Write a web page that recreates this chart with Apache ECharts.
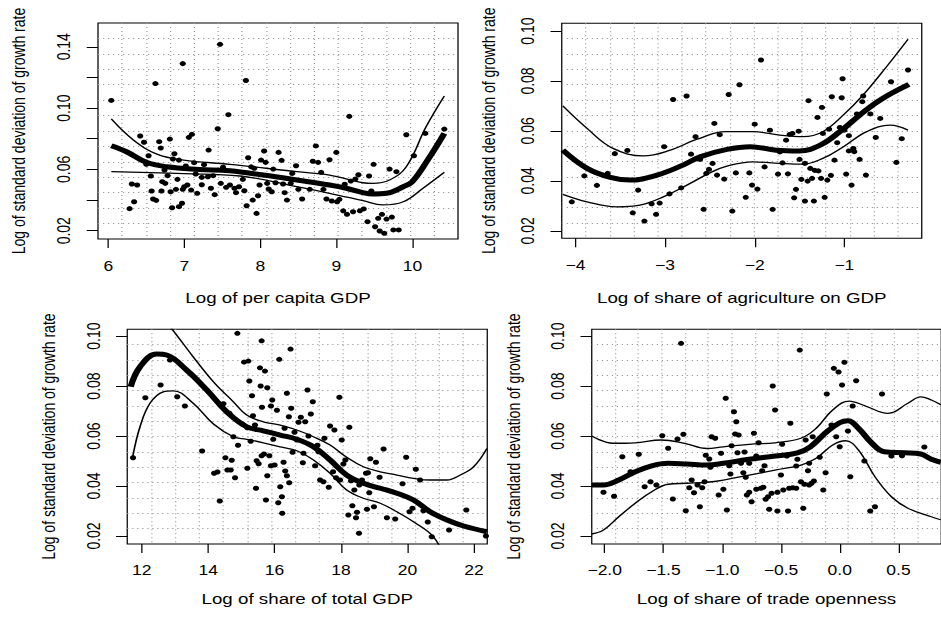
<!DOCTYPE html>
<html>
<head>
<meta charset="utf-8">
<title>Growth volatility</title>
<script src="https://cdn.jsdelivr.net/npm/echarts@6/dist/echarts.min.js"></script>
<style>
  html, body { margin: 0; padding: 0; background: #fff; overflow: hidden; }
  /* the source figure is stretched sideways, so this one is too */
  #main { width: 753px; height: 617px; transform: scaleX(1.25); transform-origin: 0 0; }
</style>
</head>
<body>
<div id="main"></div>
<script>
// tick values
var volTicksTop = [0.02, 0.04, 0.06, 0.08, 0.10, 0.12, 0.14];
var volLabelsTop = [0.02, 0.06, 0.10, 0.14];
var volTicks = [0.02, 0.04, 0.06, 0.08, 0.10];
var gdpTicks = [6, 7, 8, 9, 10];
var agriTicks = [-4, -3, -2, -1];
var totalTicks = [12, 14, 16, 18, 20, 22];
var tradeTicks = [-2.0, -1.5, -1.0, -0.5, 0.0, 0.5];

// per capita GDP
var gdpX = [6.04, 7.47, 6.98, 6.62, 7.58, 7.44, 7.10, 7.06, 6.42, 6.47,
  6.67, 6.81, 6.69, 7.32, 6.87, 6.53, 6.85, 6.93, 6.50, 7.13,
  7.26, 7.02, 7.51, 6.56, 6.74, 6.78, 7.15, 7.23, 7.31, 7.38,
  6.31, 6.38, 6.71, 6.75, 6.91, 7.00, 7.04, 7.23, 7.48, 7.60,
  6.57, 6.70, 6.82, 6.89, 6.98, 7.09, 7.17, 7.35, 7.40, 7.55,
  7.66, 7.68, 6.34, 6.59, 6.63, 6.28, 6.84, 6.93, 6.97, 7.81,
  9.17, 9.92, 10.17, 10.42, 8.73, 7.84, 8.05, 8.24, 8.01, 8.07,
  8.28, 8.47, 8.69, 8.76, 8.91, 9.00, 9.49, 9.70, 9.79, 10.02,
  7.88, 7.92, 8.17, 8.42, 8.80, 7.77, 7.99, 8.09, 8.20, 8.30,
  8.40, 8.11, 8.15, 8.32, 8.50, 8.65, 8.83, 9.11, 9.19, 9.25,
  9.29, 9.43, 9.46, 7.72, 7.79, 8.35, 8.55, 7.90, 7.97, 7.82,
  7.95, 8.87, 8.94, 9.01, 9.04, 9.09, 9.14, 9.22, 9.31, 9.36,
  9.41, 9.51, 9.55, 9.60, 9.57, 9.63, 9.66, 9.73, 9.75, 9.82];
var gdpY = [0.105, 0.1416, 0.129, 0.116, 0.0957, 0.0865, 0.0829, 0.0809, 0.0818, 0.0777,
  0.0781, 0.0798, 0.0739, 0.0726, 0.0702, 0.0689, 0.0668, 0.0661, 0.0633, 0.0644,
  0.0631, 0.0622, 0.0614, 0.0557, 0.0596, 0.0559, 0.0570, 0.0548, 0.0552, 0.0559,
  0.0505, 0.0498, 0.0520, 0.0509, 0.0535, 0.0487, 0.0498, 0.0500, 0.0509, 0.0498,
  0.0459, 0.0459, 0.0454, 0.0470, 0.0470, 0.0465, 0.0444, 0.0477, 0.0435, 0.0483,
  0.0477, 0.0448, 0.0389, 0.0407, 0.0398, 0.0344, 0.0350, 0.0357, 0.0379, 0.118,
  0.0946, 0.0826, 0.0835, 0.0863, 0.0753, 0.0676, 0.0720, 0.0711, 0.0661, 0.0646,
  0.0659, 0.0624, 0.0653, 0.0646, 0.0663, 0.0711, 0.0633, 0.0602, 0.0585, 0.0689,
  0.0617, 0.0607, 0.0602, 0.0574, 0.0581, 0.0535, 0.0498, 0.0509, 0.0513, 0.0505,
  0.0509, 0.0472, 0.0454, 0.0448, 0.0470, 0.0470, 0.0470, 0.0503, 0.0524, 0.0537,
  0.0565, 0.0557, 0.0459, 0.0487, 0.0461, 0.0400, 0.0407, 0.0400, 0.0428, 0.0363,
  0.0313, 0.0407, 0.0394, 0.0389, 0.0405, 0.0330, 0.0307, 0.0324, 0.0330, 0.0342,
  0.0259, 0.0226, 0.0281, 0.0307, 0.0198, 0.0183, 0.0276, 0.0289, 0.0205, 0.0205];
var gdpFitX = [6.04, 6.24, 6.50, 6.77, 7.20, 7.60, 8.04, 8.48, 8.91, 9.13, 9.35, 9.48, 9.66, 9.88, 10.0, 10.23, 10.42];
var gdpFit = [0.0754, 0.0715, 0.0646, 0.0617, 0.0600, 0.0591, 0.0563, 0.0531, 0.0498, 0.0477, 0.0448, 0.0439, 0.0444, 0.0487, 0.052, 0.0683, 0.0835];
var gdpUpX = [6.04, 6.33, 6.64, 6.99, 7.60, 8.48, 8.91, 9.35, 9.48, 9.70, 9.92, 10.18, 10.42];
var gdpUp = [0.0929, 0.0792, 0.0700, 0.0661, 0.0633, 0.0585, 0.0563, 0.0513, 0.0509, 0.0531, 0.0617, 0.0878, 0.1079];
var gdpLoX = [6.04, 7.0, 7.73, 8.48, 8.91, 9.35, 9.61, 9.88, 10.14, 10.42];
var gdpLo = [0.0585, 0.0572, 0.0557, 0.0487, 0.0444, 0.0396, 0.0368, 0.0389, 0.0477, 0.0581];

// share of agriculture
var agriX = [-4.04, -3.90, -3.76, -3.64, -3.56, -3.42, -3.36, -3.30, -3.23, -3.15,
  -3.10, -3.06, -3.01, -2.95, -2.91, -2.82, -2.76, -2.71, -2.66, -2.61,
  -2.57, -2.54, -2.51, -2.45, -2.39, -2.47, -2.42, -2.34, -2.29, -2.25,
  -2.21, -2.17, -2.10, -2.06, -2.03, -2.00, -1.97, -1.93, -1.89, -1.83,
  -1.80, -1.74, -1.72, -1.69, -1.65, -1.63, -1.61, -1.58, -1.56, -1.54,
  -1.51, -1.50, -1.48, -1.44, -1.44, -1.41, -1.40, -1.38, -1.36, -1.34,
  -1.33, -1.30, -1.29, -1.26, -1.25, -1.24, -1.22, -1.19, -1.17, -1.15,
  -1.14, -1.11, -1.08, -1.05, -1.03, -1.02, -1.00, -0.98, -0.95, -0.95,
  -0.92, -0.90, -0.89, -0.86, -0.83, -0.80, -0.79, -0.76, -0.71, -0.65,
  -0.60, -0.48, -0.42, -0.36, -0.29];
var agriY = [0.0316, 0.0420, 0.0382, 0.0430, 0.0509, 0.0522, 0.0272, 0.0363, 0.0239, 0.0308,
  0.0266, 0.0311, 0.0537, 0.0348, 0.0726, 0.0372, 0.0740, 0.0507, 0.0577, 0.0486,
  0.0286, 0.0430, 0.0446, 0.0630, 0.0585, 0.0470, 0.0423, 0.0407, 0.0746, 0.0279,
  0.0432, 0.0785, 0.0334, 0.0432, 0.0383, 0.0627, 0.0367, 0.0884, 0.0456, 0.0603,
  0.0286, 0.0427, 0.0516, 0.0472, 0.0563, 0.0428, 0.0586, 0.0590, 0.0332, 0.0366,
  0.0599, 0.0486, 0.0406, 0.0319, 0.0470, 0.0399, 0.0721, 0.0450, 0.0410, 0.0319,
  0.0442, 0.0654, 0.0440, 0.0410, 0.0694, 0.0590, 0.0334, 0.0403, 0.0607, 0.0422,
  0.0737, 0.0483, 0.0553, 0.0614, 0.0733, 0.0809, 0.0603, 0.0427, 0.0581, 0.0520,
  0.0383, 0.0530, 0.0517, 0.0668, 0.0486, 0.0717, 0.0740, 0.0423, 0.0668, 0.0574,
  0.0650, 0.0797, 0.0474, 0.0569, 0.0844];
var agriFitX = [-4.14, -3.87, -3.61, -3.39, -3.09, -2.80, -2.61, -2.31, -2.05, -1.76, -1.50, -1.27, -1.05, -0.83, -0.60, -0.28];
var agriFit = [0.0523, 0.0450, 0.0414, 0.0403, 0.0423, 0.0463, 0.0496, 0.0526, 0.0537, 0.0523, 0.0520, 0.0543, 0.0597, 0.0663, 0.0724, 0.0786];
var agriUpX = [-4.14, -3.87, -3.58, -3.24, -2.94, -2.65, -2.31, -2.02, -1.72, -1.46, -1.24, -1.01, -0.79, -0.53, -0.29];
var agriUp = [0.070, 0.061, 0.053, 0.050, 0.0523, 0.0566, 0.0597, 0.0597, 0.0583, 0.0577, 0.0597, 0.0664, 0.0744, 0.0857, 0.0967];
var agriLoX = [-4.14, -3.87, -3.54, -3.28, -3.02, -2.72, -2.50, -2.31, -2.02, -1.72, -1.46, -1.24, -1.01, -0.75, -0.49, -0.29];
var agriLo = [0.0346, 0.0316, 0.0296, 0.0303, 0.0336, 0.039, 0.0432, 0.0459, 0.0476, 0.047, 0.0467, 0.049, 0.0537, 0.0597, 0.0623, 0.0603];

// share of total GDP
var totalX = [11.74, 12.11, 12.57, 12.85, 13.07, 13.30, 13.82, 14.18, 14.28, 14.35,
  14.46, 14.52, 14.58, 14.64, 14.68, 14.71, 14.76, 14.81, 14.88, 14.90,
  15.61, 16.48, 15.08, 15.21, 16.14, 15.56, 15.71, 15.24, 15.58, 15.78,
  16.37, 16.99, 15.32, 17.15, 15.93, 15.62, 15.89, 16.07, 16.50, 17.95,
  15.35, 16.43, 16.79, 17.09, 16.72, 16.92, 17.67, 17.80, 18.25, 15.03,
  15.18, 15.41, 16.30, 16.60, 15.96, 16.67, 17.02, 17.50, 18.02, 17.29,
  15.28, 16.54, 16.87, 17.32, 19.28, 15.61, 15.68, 15.84, 18.88, 19.96,
  15.46, 15.52, 15.89, 16.00, 16.27, 16.85, 17.22, 18.13, 18.07, 19.05,
  15.18, 16.32, 16.37, 15.78, 17.37, 17.47, 17.63, 17.76, 17.85, 17.97,
  18.30, 18.40, 18.55, 18.63, 18.75, 18.81, 18.85, 19.16, 16.44, 16.17,
  16.22, 16.11, 16.23, 15.44, 15.74, 18.22, 18.34, 18.45, 18.48, 18.54,
  18.78, 18.99, 19.38, 19.63, 20.06, 20.15, 20.25, 20.38, 20.48, 19.85,
  20.61, 20.73, 21.25, 21.77, 22.36];
var totalY = [0.0513, 0.0753, 0.0804, 0.0904, 0.0757, 0.0720, 0.0540, 0.0451, 0.0456, 0.0340,
  0.0729, 0.0513, 0.0464, 0.0691, 0.0464, 0.0503, 0.0597, 0.0433, 0.1011, 0.0563,
  0.0981, 0.0948, 0.0896, 0.0900, 0.0907, 0.0873, 0.0860, 0.0820, 0.0800, 0.0793,
  0.0771, 0.0784, 0.0761, 0.0737, 0.0744, 0.0715, 0.0720, 0.0703, 0.0711, 0.0755,
  0.0681, 0.0677, 0.0675, 0.0688, 0.0655, 0.0657, 0.0640, 0.0624, 0.0635, 0.0648,
  0.0633, 0.0644, 0.0631, 0.0615, 0.0587, 0.0584, 0.0600, 0.0591, 0.0584, 0.0563,
  0.0579, 0.0535, 0.0531, 0.0537, 0.0548, 0.0521, 0.0528, 0.0521, 0.0509, 0.0515,
  0.0501, 0.0489, 0.0481, 0.0484, 0.0495, 0.0493, 0.0481, 0.0504, 0.0488, 0.0495,
  0.0471, 0.0460, 0.0441, 0.0441, 0.0424, 0.0417, 0.0395, 0.0457, 0.0433, 0.0424,
  0.0421, 0.0384, 0.0404, 0.0424, 0.0451, 0.0453, 0.0373, 0.0435, 0.0413, 0.0397,
  0.0357, 0.0333, 0.0291, 0.0391, 0.0344, 0.0284, 0.0321, 0.0273, 0.0295, 0.0211,
  0.0307, 0.0317, 0.0273, 0.0268, 0.0297, 0.0311, 0.0467, 0.0424, 0.0301, 0.0409,
  0.0256, 0.0197, 0.0224, 0.0304, 0.0200];
var totalFitX = [11.67, 11.95, 12.45, 12.75, 13.35, 13.96, 14.56, 15.16, 15.66, 16.17, 16.67, 17.17, 17.67, 18.17, 18.67, 19.18, 19.68, 20.18, 20.68, 21.19, 21.69, 22.39];
var totalFit = [0.0797, 0.0877, 0.0928, 0.0924, 0.0864, 0.0784, 0.0697, 0.0637, 0.0621, 0.0604, 0.0587, 0.0557, 0.0504, 0.0444, 0.0411, 0.0391, 0.0371, 0.0344, 0.0297, 0.0264, 0.024, 0.0217];
var totalUpX = [11.67, 12.0, 12.45, 12.9, 13.55, 14.16, 14.76, 15.16, 15.66, 16.17, 16.67, 17.17, 17.67, 18.17, 18.67, 19.18, 19.68, 20.18, 20.68, 21.19, 21.59, 21.99, 22.39];
var totalUp = [0.108, 0.111, 0.110, 0.103, 0.0917, 0.0817, 0.0737, 0.0684, 0.0657, 0.0644, 0.0624, 0.0597, 0.0564, 0.0515, 0.0477, 0.0457, 0.0444, 0.0431, 0.0424, 0.0424, 0.0444, 0.0477, 0.055];
var totalLoX = [11.73, 11.95, 12.25, 12.65, 12.95, 13.55, 14.16, 14.76, 15.16, 15.66, 16.17, 16.67, 17.17, 17.67, 18.17, 18.67, 19.18, 19.68, 20.18, 20.78, 21.19, 21.69, 22.39];
var totalLo = [0.0517, 0.0637, 0.0731, 0.0777, 0.0781, 0.0731, 0.0648, 0.0597, 0.0587, 0.0573, 0.0557, 0.0541, 0.0504, 0.0451, 0.0384, 0.0351, 0.0331, 0.0297, 0.0257, 0.0197, 0.0104, 0.003, -0.012];

// trade openness
var tradeX = [-2.01, -1.92, -1.85, -1.78, -1.71, -1.66, -1.61, -1.56, -1.51, -1.46,
  -1.42, -1.38, -1.35, -1.33, -1.31, -1.28, -1.26, -1.24, -1.21, -1.19,
  -1.17, -1.15, -1.14, -1.11, -1.09, -1.06, -1.10, -1.03, -1.01, -0.99,
  -0.97, -0.96, -0.94, -0.93, -0.92, -0.90, -0.88, -0.89, -0.87, -0.86,
  -0.84, -0.82, -0.81, -0.80, -0.79, -0.77, -0.77, -0.75, -0.73, -0.71,
  -0.71, -0.69, -0.67, -0.65, -0.66, -0.64, -0.63, -0.61, -0.60, -0.57,
  -0.58, -0.55, -0.53, -0.53, -0.50, -0.49, -0.48, -0.45, -0.44, -0.43,
  -0.42, -0.40, -0.37, -0.37, -0.36, -0.34, -0.33, -0.31, -0.30, -0.29,
  -0.27, -0.26, -0.26, -0.24, -0.23, -0.22, -0.17, -0.14, -0.12, -0.11,
  -0.07, -0.05, -0.03, -0.01, 0.00, 0.02, 0.04, 0.07, 0.09, 0.11,
  0.14, 0.21, 0.26, 0.30, 0.36, 0.44, 0.53, 0.72];
var tradeY = [0.0375, 0.0359, 0.0517, 0.0457, 0.0527, 0.0397, 0.0417, 0.0404, 0.0601, 0.0551,
  0.0348, 0.0588, 0.0971, 0.0607, 0.0301, 0.0393, 0.0424, 0.0373, 0.0404, 0.0317,
  0.0393, 0.0417, 0.0523, 0.0508, 0.0597, 0.0591, 0.0475, 0.0364, 0.0531, 0.0387,
  0.0751, 0.0304, 0.0481, 0.0448, 0.0561, 0.0697, 0.0657, 0.0608, 0.0533, 0.0604,
  0.0491, 0.0453, 0.0536, 0.0435, 0.0364, 0.0491, 0.0375, 0.0337, 0.0611, 0.0520,
  0.0387, 0.0573, 0.0391, 0.0395, 0.0461, 0.0481, 0.0347, 0.0357, 0.0307, 0.0800,
  0.0371, 0.0704, 0.0300, 0.0375, 0.0444, 0.0567, 0.0384, 0.0520, 0.0300, 0.0391,
  0.0651, 0.0393, 0.0480, 0.0391, 0.0507, 0.0944, 0.0417, 0.0311, 0.0407, 0.0584,
  0.0461, 0.0491, 0.0404, 0.0411, 0.0597, 0.0420, 0.0515, 0.0384, 0.0453, 0.0768,
  0.0644, 0.0871, 0.0597, 0.0856, 0.0557, 0.0804, 0.0895, 0.0620, 0.0437, 0.0720,
  0.0821, 0.0500, 0.0300, 0.0317, 0.0768, 0.0520, 0.0521, 0.0556];
var tradeFitX = [-2.11, -2.01, -1.88, -1.74, -1.60, -1.46, -1.30, -1.13, -0.99, -0.77, -0.55, -0.36, -0.25, -0.11, 0.0, 0.07, 0.16, 0.27, 0.38, 0.55, 0.69, 0.78, 0.86];
var tradeFit = [0.0404, 0.0404, 0.0424, 0.0457, 0.0481, 0.0491, 0.0488, 0.0484, 0.0491, 0.0507, 0.052, 0.0533, 0.0557, 0.0617, 0.0653, 0.0661, 0.0631, 0.0573, 0.0537, 0.0533, 0.0528, 0.0507, 0.0495];
var tradeUpX = [-2.11, -1.93, -1.74, -1.52, -1.32, -1.13, -0.99, -0.77, -0.55, -0.33, -0.20, -0.06, 0.08, 0.22, 0.41, 0.58, 0.69, 0.78, 0.86];
var tradeUp = [0.060, 0.0571, 0.0573, 0.0584, 0.0571, 0.0550, 0.0557, 0.0567, 0.0573, 0.0591, 0.0631, 0.0704, 0.074, 0.072, 0.0691, 0.0731, 0.0757, 0.0744, 0.0725];
var tradeLoX = [-2.11, -2.01, -1.88, -1.74, -1.60, -1.46, -1.30, -1.13, -0.99, -0.77, -0.55, -0.33, -0.20, -0.06, 0.05, 0.16, 0.30, 0.44, 0.58, 0.78, 0.86];
var tradeLo = [0.0208, 0.0224, 0.0277, 0.0331, 0.0377, 0.0407, 0.0411, 0.0415, 0.0424, 0.0444, 0.0464, 0.0484, 0.0511, 0.0564, 0.0581, 0.0544, 0.0437, 0.0357, 0.0311, 0.0277, 0.0265];

var FONT = '"Liberation Sans", Arial, Helvetica, sans-serif';
var Y_NAME = 'Log of standard deviation of growth rate';

function pairs(xs, ys) {
  var out = [];
  for (var i = 0; i < xs.length; i++) {
    out.push([xs[i], ys[i]]);
  }
  return out;
}

// R prints a real minus sign
function minus(s) {
  return s.replace('-', '\u2212');
}

// one entry per panel, boxes in unscaled px
var panels = [
  {
    box: { left: 78.4, top: 23, width: 288, height: 216 },
    xMin: 5.865, xMax: 10.6, yMin: 0.0146, yMax: 0.1555,
    xTicks: gdpTicks, xDigits: 0, yTicks: volTicksTop, yLabels: volLabelsTop,
    xName: 'Log of per capita GDP', xLabelMargin: 20, xNameGap: 52, yNameGap: 56,
    x: gdpX, y: gdpY, fitX: gdpFitX, fit: gdpFit, upX: gdpUpX, up: gdpUp, loX: gdpLoX, lo: gdpLo
  },
  {
    box: { left: 449.4, top: 23.3, width: 288, height: 215 },
    xMin: -4.152, xMax: -0.137, yMin: 0.017, yMax: 0.1031,
    xTicks: agriTicks, xDigits: 0, yTicks: volTicks, yLabels: volTicks,
    xName: 'Log of share of agriculture on GDP', xLabelMargin: 20, xNameGap: 52, yNameGap: 51,
    x: agriX, y: agriY, fitX: agriFitX, fit: agriFit, upX: agriUpX, up: agriUp, loX: agriLoX, lo: agriLo
  },
  {
    box: { left: 101.8, top: 329.3, width: 288, height: 214.7 },
    xMin: 11.566, xMax: 22.4, yMin: 0.0168, yMax: 0.1027,
    xTicks: totalTicks, xDigits: 0, yTicks: volTicks, yLabels: volTicks,
    xName: 'Log of share of total GDP', xLabelMargin: 19, xNameGap: 48, yNameGap: 56,
    x: totalX, y: totalY, fitX: totalFitX, fit: totalFit, upX: totalUpX, up: totalUp, loX: totalLoX, lo: totalLo
  },
  {
    box: { left: 473.4, top: 329.3, width: 288, height: 214.7 },
    xMin: -2.11, xMax: 0.864, yMin: 0.0168, yMax: 0.1027,
    xTicks: tradeTicks, xDigits: 1, yTicks: volTicks, yLabels: volTicks,
    xName: 'Log of share of trade openness', xLabelMargin: 19, xNameGap: 48, yNameGap: 55,
    x: tradeX, y: tradeY, fitX: tradeFitX, fit: tradeFit, upX: tradeUpX, up: tradeUp, loX: tradeLoX, lo: tradeLo
  }
];

var grids = [], xAxes = [], yAxes = [], series = [];

// dotted background grid, R grid(15, 14)
var dotLine = { show: true, showMinLine: false, showMaxLine: false, lineStyle: { color: '#9a9a9a', type: [1, 3], width: 1 } };

panels.forEach(function (p, i) {
  grids.push({
    left: p.box.left, top: p.box.top, width: p.box.width, height: p.box.height,
    show: true, borderColor: '#000', borderWidth: 1, backgroundColor: 'transparent'
  });

  xAxes.push({
    type: 'value', gridIndex: i, min: p.xMin, max: p.xMax, position: 'bottom',
    name: p.xName, nameLocation: 'middle', nameGap: p.xNameGap,
    nameTextStyle: { fontFamily: FONT, fontSize: 15, color: '#000' },
    axisLine: { show: false, onZero: false },
    axisTick: { show: true, length: 9, customValues: p.xTicks, lineStyle: { color: '#000' } },
    axisLabel: {
      customValues: p.xTicks, margin: p.xLabelMargin,
      fontFamily: FONT, fontSize: 14, color: '#000',
      formatter: function (v) { return minus(Number(v).toFixed(p.xDigits)); }
    },
    splitLine: { show: false }
  });
  xAxes.push({
    type: 'value', gridIndex: i, min: 0, max: 15, interval: 1,
    axisLine: { show: false, onZero: false }, axisTick: { show: false }, axisLabel: { show: false },
    splitLine: dotLine
  });

  yAxes.push({
    type: 'value', gridIndex: i, min: p.yMin, max: p.yMax, position: 'left',
    name: Y_NAME, nameLocation: 'middle', nameGap: p.yNameGap, nameRotate: 90,
    nameTextStyle: { fontFamily: FONT, fontSize: 14, color: '#000' },
    axisLine: { show: false, onZero: false },
    axisTick: { show: true, length: 9, customValues: p.yTicks, lineStyle: { color: '#000' } },
    axisLabel: {
      customValues: p.yLabels, margin: 20, rotate: 90,
      fontFamily: FONT, fontSize: 14, color: '#000',
      formatter: function (v) { return Number(v).toFixed(2); }
    },
    splitLine: { show: false }
  });
  yAxes.push({
    type: 'value', gridIndex: i, min: 0, max: 14, interval: 1,
    axisLine: { show: false, onZero: false }, axisTick: { show: false }, axisLabel: { show: false },
    splitLine: dotLine
  });

  var ax = { xAxisIndex: 2 * i, yAxisIndex: 2 * i };

  series.push(Object.assign({
    type: 'scatter', data: pairs(p.x, p.y), symbol: 'circle', symbolSize: 5,
    itemStyle: { color: '#000', opacity: 1 }, silent: true, z: 2
  }, ax));

  [[p.loX, p.lo, 1.3], [p.upX, p.up, 1.3], [p.fitX, p.fit, 5]].forEach(function (c) {
    series.push(Object.assign({
      type: 'line', data: pairs(c[0], c[1]), smooth: 0.4, showSymbol: false, symbol: 'none',
      lineStyle: { color: '#000', width: c[2] }, silent: true, z: 3, clip: true
    }, ax));
  });
});

var myChart = echarts.init(document.getElementById('main'), null, { renderer: 'svg' });
myChart.setOption({
  animation: false,
  backgroundColor: '#fff',
  grid: grids,
  xAxis: xAxes,
  yAxis: yAxes,
  series: series
});
</script>
</body>
</html>
